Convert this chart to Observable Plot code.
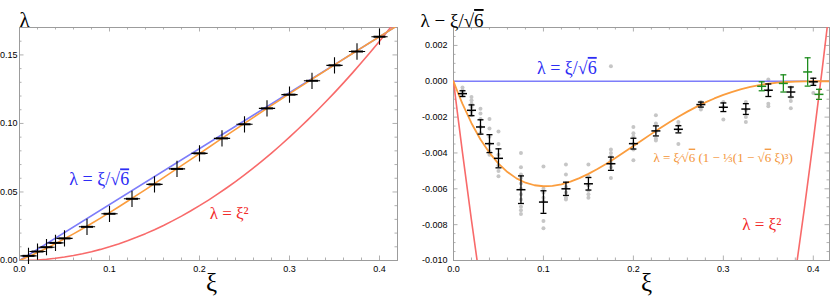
<!DOCTYPE html>
<html><head><meta charset="utf-8">
<script src="https://cdn.jsdelivr.net/npm/d3@7"></script>
<script src="https://cdn.jsdelivr.net/npm/@observablehq/plot@0.6"></script>
<style>
body{margin:0;background:#fff;}
#wrap{display:flex;width:830px;height:298px;overflow:hidden;}
#wrap svg{flex:none;}
</style></head><body><div id="wrap"></div>
<script>
// ---------- data ----------
const curveXi = [0,0.005,0.01,0.02,0.03,0.04,0.05,0.06,0.07,0.08,0.09,0.10,0.11,0.12,0.13,0.14,0.15,0.16,0.17,0.18,0.19,0.20,0.21,0.22,0.23,0.24,0.25,0.26,0.27,0.28,0.29,0.30,0.31,0.32,0.33,0.34,0.35,0.36,0.37,0.38,0.39,0.40,0.41,0.42];
// left panel curves (lambda)
const redLeftLam = [0,0.000025,0.0001,0.0004,0.0009,0.0016,0.0025,0.0036,0.0049,0.0064,0.0081,0.01,0.0121,0.0144,0.0169,0.0196,0.0225,0.0256,0.0289,0.0324,0.0361,0.04,0.0441,0.0484,0.0529,0.0576,0.0625,0.0676,0.0729,0.0784,0.0841,0.09,0.0961,0.1024,0.1089,0.1156,0.1225,0.1296,0.1369,0.1444,0.1521,0.16,0.1681,0.1764];
const orangeLeftLam = [0,0.001385,0.002819,0.005824,0.0090,0.012335,0.015814,0.019427,0.023159,0.027001,0.03094,0.034967,0.03907,0.043242,0.047471,0.05175,0.05607,0.060424,0.064804,0.069204,0.073617,0.078038,0.082459,0.08688,0.091292,0.095694,0.10008,0.104451,0.1088,0.113129,0.117433,0.121713,0.125969,0.130199,0.134406,0.138588,0.142749,0.146888,0.151011,0.155117,0.159212,0.163299,0.167382,0.171464];
const blueLeftXi = [0, 0.42];
const blueLeftLam = [0, 0.17146];
// right panel curves (lambda - xi/sqrt6)
const orangeResid = [0,-0.000656,-0.001263,-0.002341,-0.003247,-0.003995,-0.004598,-0.005068,-0.005418,-0.005659,-0.005802,-0.005858,-0.005837,-0.005748,-0.005601,-0.005405,-0.005167,-0.004896,-0.004598,-0.004281,-0.00395,-0.003612,-0.003273,-0.002935,-0.002605,-0.002286,-0.001982,-0.001694,-0.001427,-0.001181,-0.000959,-0.000761,-0.000588,-0.00044,-0.000316,-0.000216,-0.000138,-0.000081,-0.000041,-0.000017,-0.000005,0,0,0];
const blueResid = [0];
const redRightXi = [0,0.005,0.01,0.02,0.03,0.04, 0.36,0.37,0.38,0.39,0.40,0.41,0.42];
const redRightResid = [0,-0.002016,-0.003982,-0.007765,-0.011347,-0.01473, -0.017369,-0.014152,-0.010734,-0.007117,-0.003299,0.000718,0.004936];
const redRightSeg = ["a","a","a","a","a","a","b","b","b","b","b","b","b"];
// measured points
const ptXi = [0.01,0.02,0.03,0.04,0.05,0.075,0.1,0.125,0.15,0.175,0.2,0.225,0.25,0.275,0.3,0.325,0.35,0.375,0.4];
const ptLam = [0.00339,0.00655,0.0097,0.01285,0.01611,0.02457,0.03409,0.04503,0.05552,0.06684,0.07817,0.08909,0.09938,0.11097,0.12102,0.13113,0.14239,0.15249,0.16328];
const ptResid = [-0.00069,-0.00162,-0.00255,-0.00348,-0.0043,-0.00605,-0.00674,-0.006,-0.00572,-0.0046,-0.00348,-0.00277,-0.00268,-0.0013,-0.00145,-0.00155,-0.0005,-0.0006,-0.00003];
const ptErr = [0.00016,0.0003,0.0004,0.0005,0.00053,0.00077,0.00063,0.00037,0.00035,0.00037,0.0003,0.00028,0.0002,0.00014,0.00024,0.0003,0.00035,0.00028,0.0002];
const greenXi = [0.3426,0.3667,0.3937,0.4063];
const greenResid = [-0.00028,-0.00012,0.00052,-0.00073];
const greenErr = [0.00025,0.00048,0.00079,0.00028];
const grayXi = [0.01,0.02,0.03,0.04,0.05,0.075,0.1,0.125,0.15,0.175,0.2,0.225,0.25,0.275,0.3,0.325,0.35,0.375,0.4];
const grayVals = [
  [-0.00035,-0.0005,-0.00065,-0.0008],
  [-0.00088,-0.00106,-0.00125,-0.00143,-0.0017,-0.0019],
  [-0.00153,-0.0018,-0.0021,-0.00255,-0.0029],
  [-0.0021,-0.00264,-0.0031,-0.0035,-0.0039,-0.0041],
  [-0.0028,-0.0035,-0.0041,-0.0047,-0.005,-0.0053],
  [-0.004,-0.0048,-0.0052,-0.0054,-0.0057,-0.006,-0.0063,-0.0066,-0.007,-0.0072,-0.0074],
  [-0.00475,-0.006,-0.0062,-0.0065,-0.0067,-0.0078,-0.0082],
  [-0.00465,-0.0052,-0.0059,-0.0062,-0.0065,-0.0066],
  [-0.00465,-0.0053,-0.0058,-0.0061,-0.0063,-0.0065],
  [0.00084,-0.0038,-0.004,-0.0042,-0.0044,-0.0046,-0.0048,-0.0054],
  [-0.00255,-0.0029,-0.0031,-0.0035,-0.0038,-0.0044],
  [-0.0019,-0.00236,-0.0028,-0.0032,-0.0033],
  [-0.00227,-0.00246,-0.0027,-0.0035],
  [-0.00115,-0.00143,-0.00158],
  [-0.00115,-0.00143,-0.00214],
  [-0.00115,-0.0016,-0.002,-0.00227],
  [0.0001,-0.0005,-0.00125,-0.0014],
  [-0.00035,-0.00088,-0.0011,-0.0015],
  [-0.00013,-0.00065]
];
// ticks
const xMajor = [0,0.1,0.2,0.3,0.4];
const xMinor = [0.02,0.04,0.06,0.08,0.12,0.14,0.16,0.18,0.22,0.24,0.26,0.28,0.32,0.34,0.36,0.38];
const yLeftMajor = [0,0.05,0.10,0.15];
const yLeftMinor = [0.01,0.02,0.03,0.04,0.06,0.07,0.08,0.09,0.11,0.12,0.13,0.14,0.16];
const yRightMajor = [-0.010,-0.008,-0.006,-0.004,-0.002,0,0.002];
const yRightMinor = [-0.0095,-0.009,-0.0085,-0.0075,-0.007,-0.0065,-0.0055,-0.005,-0.0045,-0.0035,-0.003,-0.0025,-0.0015,-0.001,-0.0005,0.0005,0.001,0.0015,0.0025];

// ---------- styling ----------
const BLUE = "#7d7dfa", RED = "#f86a6a", ORANGE = "#fb9d3e", GREEN = "#1e8c1e", FRAME = "#9c9c9c";
const SERIF = "Liberation Serif";
const hline = {draw(ctx, size){ const r = Math.sqrt(size/Math.PI); ctx.moveTo(-r,0); ctx.lineTo(r,0); }};
const H = 298, mT = 27, mB = 38, PH = H - mT - mB;

function frameTicks(xMaj, xMin, yMaj, yMin, pw) {
  const M = 4.5, m = 2.5, s = {stroke: FRAME, strokeWidth: 0.8};
  return [
    Plot.ruleX(xMaj, {x: d => d, insetTop: PH - M, ...s}),
    Plot.ruleX(xMaj, {x: d => d, insetBottom: PH - M, ...s}),
    Plot.ruleX(xMin, {x: d => d, insetTop: PH - m, ...s}),
    Plot.ruleX(xMin, {x: d => d, insetBottom: PH - m, ...s}),
    Plot.ruleY(yMaj, {y: d => d, insetRight: pw - M, ...s}),
    Plot.ruleY(yMaj, {y: d => d, insetLeft: pw - M, ...s}),
    Plot.ruleY(yMin, {y: d => d, insetRight: pw - m, ...s}),
    Plot.ruleY(yMin, {y: d => d, insetLeft: pw - m, ...s}),
    Plot.frame({stroke: FRAME, strokeWidth: 1})
  ];
}

// ---------- left panel ----------
const W1 = 415, mL1 = 19, mR1 = 18, PW1 = W1 - mL1 - mR1;
const curveLeft = curveXi.map((x, i) => ({x, red: redLeftLam[i], orange: orangeLeftLam[i]}));
const blueLeft = blueLeftXi.map((x, i) => ({x, y: blueLeftLam[i]}));
const ptsLeft = ptXi.map((x, i) => ({x, y: ptLam[i]}));

const left = Plot.plot({
  width: W1, height: H, marginLeft: mL1, marginRight: mR1, marginTop: mT, marginBottom: mB,
  style: {fontFamily: "'Liberation Sans',Arial,sans-serif", fontSize: "9px", background: "white", overflow: "visible"},
  x: {domain: [0, 0.42]},
  y: {domain: [0, 0.17]},
  marks: [
    Plot.axisX(xMajor, {tickSize: 0, tickPadding: 5, tickFormat: d => d.toFixed(1), label: null}),
    Plot.axisY(yLeftMajor, {tickSize: 0, tickPadding: 2, tickFormat: d => d.toFixed(2), label: null}),
    ...frameTicks(xMajor, xMinor, yLeftMajor, yLeftMinor, PW1),
    Plot.line(curveLeft, {x: "x", y: "red", stroke: RED, strokeWidth: 1.6, clip: true}),
    Plot.line(blueLeft, {x: "x", y: "y", stroke: BLUE, strokeWidth: 1.6, clip: true}),
    Plot.line(curveLeft, {x: "x", y: "orange", stroke: ORANGE, strokeWidth: 1.6, clip: true}),
    Plot.dot(ptsLeft, {x: "x", y: "y", symbol: "plus", r: 5.3, stroke: "black", strokeWidth: 1.1}),
    Plot.dot(ptsLeft, {x: "x", y: "y", symbol: hline, r: 6, fill: "none", stroke: "black", strokeWidth: 2}),
    Plot.text(["λ = ξ/√6"], {x: 0.0886, y: 0.059, fill: "#2d2df5", fontSize: 18, fontFamily: SERIF}),
    Plot.text(["λ = ξ²"], {x: 0.233, y: 0.0343, fill: "#f22a2a", fontSize: 17, fontFamily: SERIF}),
    Plot.text(["λ"], {frameAnchor: "top-left", dy: -15, fontSize: 21, fontFamily: SERIF, fill: "black"}),
    Plot.text(["ξ"], {frameAnchor: "bottom", dx: 3, dy: 30, fontSize: 25, fontFamily: SERIF, fill: "black"})
  ]
});

// ---------- right panel ----------
const W2 = 415, mL2 = 38, mR2 = 1, PW2 = W2 - mL2 - mR2;
const curveRight = curveXi.map((x, i) => ({x, y: orangeResid[i]}));
const redRight = redRightXi.map((x, i) => ({x, y: redRightResid[i], z: redRightSeg[i]}));
const pts = ptXi.map((x, i) => ({x, y: ptResid[i], e: ptErr[i]}));
const greens = greenXi.map((x, i) => ({x, y: greenResid[i], e: greenErr[i]}));
const grays = grayXi.flatMap((x, i) => grayVals[i].map(y => ({x, y})));

function errMarks(data, color) {
  return [
    Plot.ruleX(data, {x: "x", y1: d => d.y - d.e, y2: d => d.y + d.e, stroke: color, strokeWidth: 1.3}),
    Plot.dot(data, {x: "x", y: d => d.y - d.e, symbol: hline, r: 3, fill: "none", stroke: color, strokeWidth: 1.3}),
    Plot.dot(data, {x: "x", y: d => d.y + d.e, symbol: hline, r: 3, fill: "none", stroke: color, strokeWidth: 1.3}),
    Plot.dot(data, {x: "x", y: "y", symbol: hline, r: 4.5, fill: "none", stroke: color, strokeWidth: 1.5})
  ];
}

const right = Plot.plot({
  width: W2, height: H, marginLeft: mL2, marginRight: mR2, marginTop: mT, marginBottom: mB,
  style: {fontFamily: "'Liberation Sans',Arial,sans-serif", fontSize: "9px", background: "white", overflow: "visible"},
  x: {domain: [0, 0.418]},
  y: {domain: [-0.010, 0.003]},
  marks: [
    Plot.axisX(xMajor, {tickSize: 0, tickPadding: 5, tickFormat: d => d.toFixed(1), label: null}),
    Plot.axisY(yRightMajor, {tickSize: 0, tickPadding: 6, tickFormat: d => d.toFixed(3), label: null}),
    ...frameTicks(xMajor, xMinor, yRightMajor, yRightMinor, PW2),
    Plot.dot(grays, {x: "x", y: "y", r: 2, fill: "#c6c6c6"}),
    Plot.ruleY(blueResid, {y: d => d, stroke: BLUE, strokeWidth: 1.6}),
    Plot.line(redRight, {x: "x", y: "y", z: "z", stroke: RED, strokeWidth: 1.6, clip: true}),
    Plot.line(curveRight, {x: "x", y: "y", stroke: ORANGE, strokeWidth: 1.8, clip: true}),
    ...errMarks(pts, "black"),
    ...errMarks(greens, GREEN),
    Plot.text(["λ = ξ/√6"], {x: 0.126, y: 0.00073, fill: "#2d2df5", fontSize: 18, fontFamily: SERIF}),
    Plot.text(["λ = ξ⁄√6 (1 − ⅓(1 − √6 ξ)³)"], {x: 0.2997, y: -0.00425, fill: "#f39436", fontSize: 13, fontFamily: SERIF}),
    Plot.text(["λ = ξ²"], {x: 0.3427, y: -0.008, fill: "#f22a2a", fontSize: 17, fontFamily: SERIF}),
    Plot.text(["λ − ξ/√6"], {frameAnchor: "top-left", dx: -33, dy: -14, textAnchor: "start", fontSize: 19, fontFamily: SERIF, fill: "black"}),
    Plot.text(["ξ"], {frameAnchor: "bottom", dx: 5, dy: 30, fontSize: 25, fontFamily: SERIF, fill: "black"})
  ]
});

// draw the radical's bar over "6" as real text decoration
function overlineRoots(svg) {
  d3.select(svg).selectAll("text").each(function() {
    const t = this.textContent;
    if (!t.includes("√6") || this.querySelector("tspan")) return;
    const parts = t.split("√6");
    const sel = d3.select(this);
    sel.text(null);
    parts.forEach((p, i) => {
      sel.append("tspan").text(p + (i < parts.length - 1 ? "√" : ""));
      if (i < parts.length - 1) sel.append("tspan").style("text-decoration", "overline").text("6");
    });
  });
}
overlineRoots(left);
overlineRoots(right);

const wrap = document.getElementById("wrap");
wrap.appendChild(left);
wrap.appendChild(right);
</script></body></html>
